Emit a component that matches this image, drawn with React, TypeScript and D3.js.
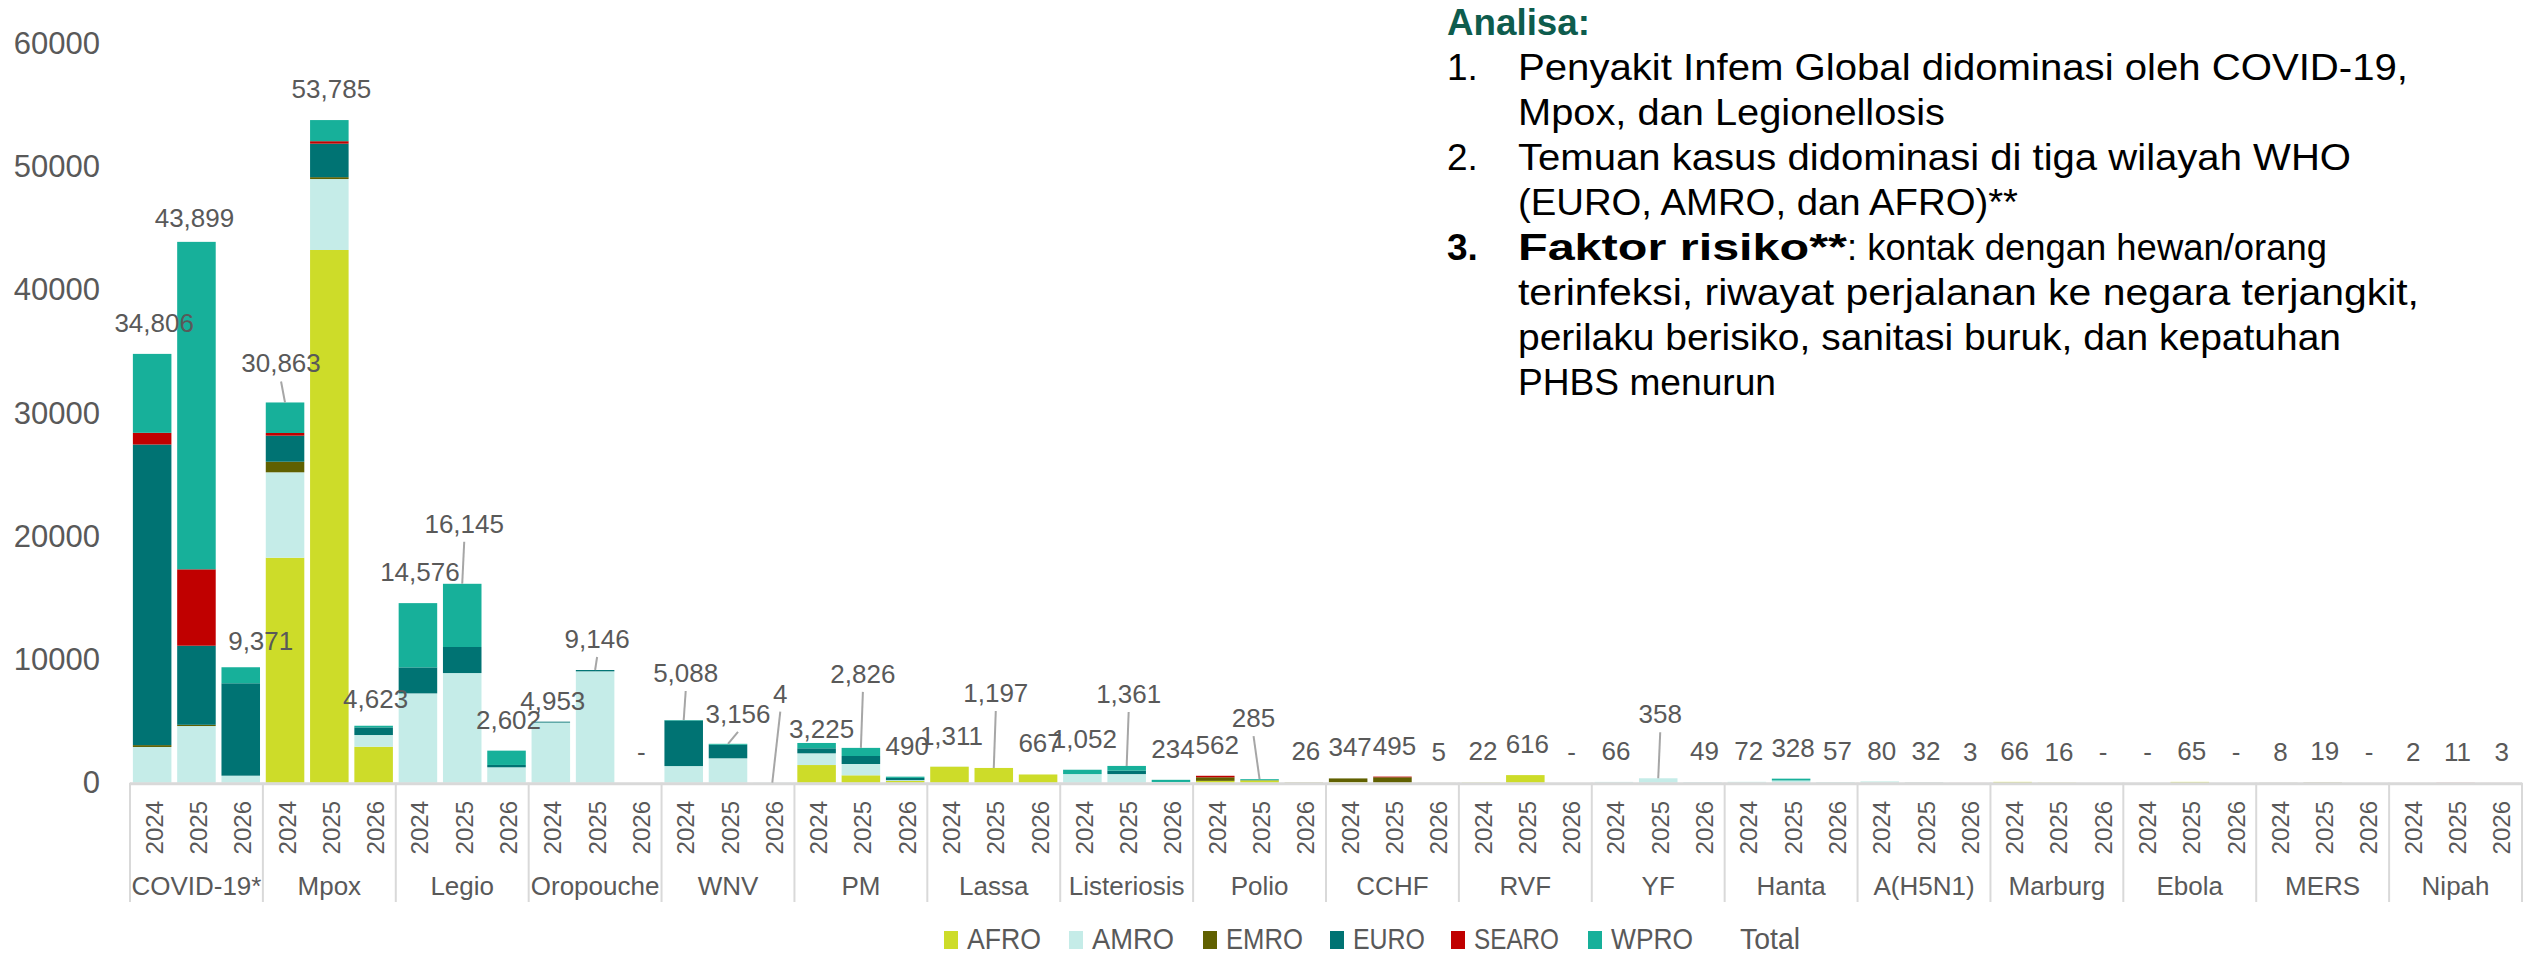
import React, { useEffect } from "react";
import * as d3 from "d3";

// ---------- DATA ----------
const categories = ["COVID-19*", "Mpox", "Legio", "Oropouche", "WNV", "PM", "Lassa", "Listeriosis", "Polio", "CCHF", "RVF", "YF", "Hanta", "A(H5N1)", "Marburg", "Ebola", "MERS", "Nipah"];
const years = ["2024", "2025", "2026"];
const regions = ["AFRO", "AMRO", "EMRO", "EURO", "SEARO", "WPRO"];

// each row: [2024, 2025, 2026], rows in category order
const AFRO = [[0, 0, 0], [18260, 43240, 2920], [0, 0, 0], [0, 0, 0], [0, 0, 0], [1434, 600, 150], [1300, 1197, 667], [0, 0, 0], [150, 185, 10], [47, 0, 0], [22, 616, 0], [0, 0, 0], [0, 0, 0], [0, 0, 0], [66, 16, 0], [0, 65, 0], [0, 0, 0], [0, 0, 0]];
const AMRO = [[2900, 4600, 570], [6935, 5760, 950], [7250, 8900, 1250], [4880, 9040, 0], [1350, 1980, 0], [951, 918, 60], [11, 0, 0], [700, 700, 60], [0, 0, 0], [0, 0, 0], [0, 0, 0], [66, 358, 49], [72, 180, 57], [70, 20, 0], [0, 0, 0], [0, 0, 0], [0, 0, 0], [0, 0, 0]];
const EMRO = [[150, 100, 0], [860, 150, 0], [0, 0, 0], [0, 0, 0], [0, 0, 0], [0, 0, 0], [0, 0, 0], [0, 0, 0], [290, 20, 16], [300, 440, 5], [0, 0, 0], [0, 0, 0], [0, 0, 0], [0, 0, 0], [0, 0, 0], [0, 0, 0], [8, 19, 0], [0, 0, 0]];
const EURO = [[24400, 6420, 7500], [2115, 2720, 620], [2110, 2115, 190], [73, 106, 0], [3700, 1100, 4], [407, 650, 180], [0, 0, 0], [0, 275, 0], [0, 0, 0], [0, 0, 0], [0, 0, 0], [0, 0, 0], [0, 0, 0], [0, 0, 0], [0, 0, 0], [0, 0, 0], [0, 0, 0], [0, 0, 0]];
const SEARO = [[950, 6200, 0], [215, 200, 0], [0, 0, 0], [0, 0, 0], [0, 0, 0], [0, 0, 0], [0, 0, 0], [0, 0, 0], [122, 0, 0], [0, 55, 0], [0, 0, 0], [0, 0, 0], [0, 0, 0], [0, 5, 3], [0, 0, 0], [0, 0, 0], [0, 0, 0], [2, 11, 3]];
const WPRO = [[6406, 26579, 1301], [2478, 1715, 133], [5216, 5130, 1162], [0, 0, 0], [38, 76, 0], [433, 658, 100], [0, 0, 0], [352, 386, 174], [0, 80, 0], [0, 0, 0], [0, 0, 0], [0, 0, 0], [0, 148, 0], [10, 7, 0], [0, 0, 0], [0, 0, 0], [0, 0, 0], [0, 0, 0]];
const totals = [[34806, 43899, 9371], [30863, 53785, 4623], [14576, 16145, 2602], [4953, 9146, 0], [5088, 3156, 4], [3225, 2826, 490], [1311, 1197, 667], [1052, 1361, 234], [562, 285, 26], [347, 495, 5], [22, 616, 0], [66, 358, 49], [72, 328, 57], [80, 32, 3], [66, 16, 0], [0, 65, 0], [8, 19, 0], [2, 11, 3]];
const yTicks = [0, 10000, 20000, 30000, 40000, 50000, 60000];

const annotationTitle = "Analisa:";
const annotationLines = [
  { num: "1.", text: "Penyakit Infem Global didominasi oleh COVID-19," },
  { num: "", text: "Mpox, dan Legionellosis" },
  { num: "2.", text: "Temuan kasus didominasi di tiga wilayah WHO" },
  { num: "", text: "(EURO, AMRO, dan AFRO)**" },
  { num: "3.", bold: "Faktor risiko**", text: ": kontak dengan hewan/orang" },
  { num: "", text: "terinfeksi, riwayat perjalanan ke negara terjangkit," },
  { num: "", text: "perilaku berisiko, sanitasi buruk, dan kepatuhan" },
  { num: "", text: "PHBS menurun" },
];

// ---------- STYLE / LAYOUT ----------
const W = 2526, H = 956;
const colors: Record<string, string> = {
  AFRO: "#CDDC29", AMRO: "#C5ECE8", EMRO: "#606000", EURO: "#007373", SEARO: "#C00000", WPRO: "#17B09A",
};
const regionData: Record<string, number[][]> = { AFRO, AMRO, EMRO, EURO, SEARO, WPRO };
const FONT = "'Liberation Sans', Arial, sans-serif";
const GRAY = "#595959";

// label layout tweaks: key "catIndex-yearIndex" -> lift above bar top (px), dx, leader line
const labelTweaks: Record<string, { dy?: number; dx?: number; leader?: boolean }> = {
  "0-1": { dy: 15, dx: -2 },
  "0-2": { dy: 17, dx: 20 },
  "1-0": { dy: 30, dx: -4, leader: true },
  "1-2": { dy: 18 },
  "2-1": { dy: 51, leader: true },
  "3-0": { dy: 12 },
  "3-1": { dy: 22, leader: true },
  "4-0": { dy: 38, leader: true },
  "4-1": { dy: 21, dx: 10, leader: true },
  "4-2": { dy: 80, dx: 8, leader: true },
  "5-0": { dy: 5, dx: 5 },
  "5-1": { dy: 65, leader: true },
  "6-1": { dy: 66, leader: true },
  "7-1": { dy: 63, leader: true },
  "8-1": { dy: 52, dx: -6, leader: true },
  "11-1": { dy: 55, leader: true },
};
const legendX = [944, 1069, 1203, 1330, 1451, 1588];
const legendTextW = [74, 82, 77, 72, 85, 82];
const legendTotalX = 1740;
const legendTotalW = 60;

export default function App() {
  useEffect(() => {
    document.body.style.margin = "0";
    document.body.style.overflow = "hidden";
  }, []);

  const x0 = d3.scaleBand<string>().domain(categories).range([130, 2522]).paddingInner(0).paddingOuter(0);
  const x1 = d3.scaleBand<string>().domain(years).range([0, x0.bandwidth()]).paddingInner(0.13).paddingOuter(0.065);
  const y = d3.scaleLinear().domain([0, 60000]).range([782.7, 43.5]);

  const rows: { key: string; region: string; x: number; w: number; y0: number; y1: number }[] = [];
  categories.forEach((c, ci) => {
    years.forEach((yr, yi) => {
      const rec: Record<string, number> = {};
      regions.forEach((r) => (rec[r] = regionData[r][ci][yi]));
      const stacked = d3.stack<Record<string, number>>().keys(regions)([rec]);
      stacked.forEach((s) => {
        const [a, b] = s[0];
        if (b - a <= 0) return;
        rows.push({ key: `${ci}-${yi}-${s.key}`, region: s.key, x: (x0(c) as number) + (x1(yr) as number), w: x1.bandwidth(), y0: y(a), y1: y(b) });
      });
    });
  });

  const labels: any[] = [];
  categories.forEach((c, ci) => {
    years.forEach((yr, yi) => {
      const tot = totals[ci][yi];
      const cx = (x0(c) as number) + (x1(yr) as number) + x1.bandwidth() / 2;
      const top = y(tot);
      const tw = labelTweaks[`${ci}-${yi}`] || {};
      const dy = tw.dy ?? 22;
      const lx = cx + (tw.dx ?? 2);
      const by = Math.min(top - dy, y(0) - 22);
      labels.push({ key: `${ci}-${yi}`, text: tot === 0 ? "-" : d3.format(",")(tot), lx, by, cx, top, leader: !!tw.leader });
    });
  });

  const lineY0 = 80, lineStep = 45;
  const lineWidths = [890, 427, 833, 500, 480, 901, 823, 258];

  return (
    <svg width={W} height={H} viewBox={`0 0 ${W} ${H}`} style={{ display: "block", background: "#fff" }} fontFamily={FONT}>
      {/* y tick labels */}
      {yTicks.map((t) => (
        <text key={t} x={100} y={y(t)} textAnchor="end" dominantBaseline="central" fontSize={31} fill={GRAY}>{t}</text>
      ))}
      {/* bars */}
      {rows.map((r) => (
        <rect key={r.key} x={r.x} y={r.y1} width={r.w} height={Math.max(0, r.y0 - r.y1)} fill={colors[r.region]} />
      ))}
      {/* axis line */}
      <line x1={130} x2={2522} y1={y(0) + 1} y2={y(0) + 1} stroke="#D9D9D9" strokeWidth={3} />
      {/* group dividers */}
      {[...categories.map((c) => x0(c) as number), 2522].map((xx, i) => (
        <line key={i} x1={xx} x2={xx} y1={y(0)} y2={902} stroke="#D9D9D9" strokeWidth={2} />
      ))}
      {/* year labels */}
      {categories.map((c) => years.map((yr) => {
        const cx = (x0(c) as number) + (x1(yr) as number) + x1.bandwidth() / 2 + 2;
        return (
          <text key={c + yr} transform={`translate(${cx},801) rotate(-90)`} textAnchor="end" dominantBaseline="central" fontSize={24} fill={GRAY}>{yr}</text>
        );
      }))}
      {/* group labels */}
      {categories.map((c) => (
        <text key={c} x={(x0(c) as number) + x0.bandwidth() / 2} y={895} textAnchor="middle" fontSize={26} fill={GRAY}>{c}</text>
      ))}
      {/* leader lines */}
      {labels.filter((l) => l.leader).map((l) => (
        <line key={"ld" + l.key} x1={l.lx} y1={l.by + 9} x2={l.cx} y2={l.top} stroke="#A6A6A6" strokeWidth={2} />
      ))}
      {/* data labels */}
      {labels.map((l) => (
        <text key={"lb" + l.key} x={l.lx} y={l.by} textAnchor="middle" fontSize={26} fill={GRAY}>{l.text}</text>
      ))}
      {/* legend */}
      {regions.map((r, i) => (
        <g key={r}>
          <rect x={legendX[i]} y={931} width={14} height={18} fill={colors[r]} />
          <text x={legendX[i] + 23} y={949} fontSize={29} fill={GRAY} textLength={legendTextW[i]} lengthAdjust="spacingAndGlyphs">{r}</text>
        </g>
      ))}
      <text x={legendTotalX} y={949} fontSize={29} fill={GRAY} textLength={legendTotalW} lengthAdjust="spacingAndGlyphs">Total</text>
      {/* annotation */}
      <text x={1447} y={35} fontSize={37} fontWeight="bold" fill="#0E5C4D" textLength={143} lengthAdjust="spacingAndGlyphs">{annotationTitle}</text>
      {annotationLines.map((ln, i) => {
        const by = lineY0 + i * lineStep;
        return (
          <g key={i}>
            {ln.num && (
              <text x={1447} y={by} fontSize={37} fontWeight={ln.bold ? "bold" : "normal"} fill="#000">{ln.num}</text>
            )}
            {ln.bold ? (
              <>
                <text x={1518} y={by} fontSize={37} fontWeight="bold" fill="#000" textLength={329} lengthAdjust="spacingAndGlyphs">{ln.bold}</text>
                <text x={1847} y={by} fontSize={37} fill="#000" textLength={lineWidths[i]} lengthAdjust="spacingAndGlyphs">{ln.text}</text>
              </>
            ) : (
              <text x={1518} y={by} fontSize={37} fill="#000" textLength={lineWidths[i]} lengthAdjust="spacingAndGlyphs">{ln.text}</text>
            )}
          </g>
        );
      })}
    </svg>
  );
}
